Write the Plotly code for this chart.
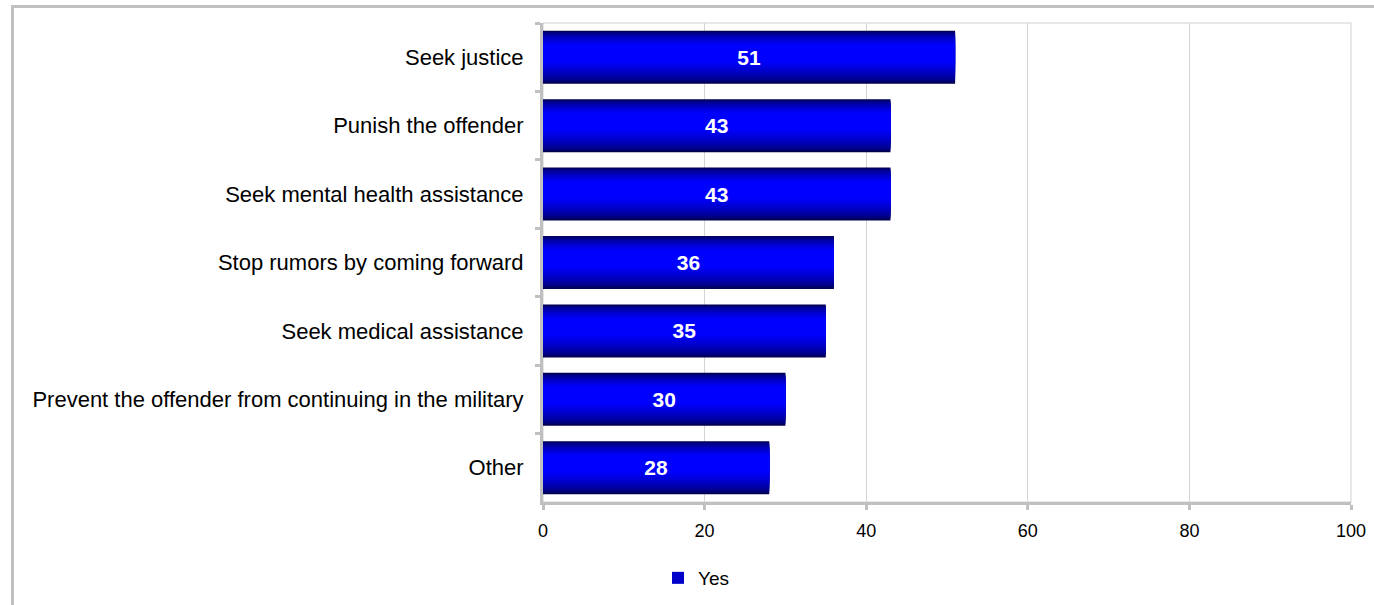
import plotly.graph_objects as go

categories = [
    "Seek justice",
    "Punish the offender",
    "Seek mental health assistance",
    "Stop rumors by coming forward",
    "Seek medical assistance",
    "Prevent the offender from continuing in the military",
    "Other",
]
yes_values = [51, 43, 43, 36, 35, 30, 28]
x_ticks = [0, 20, 40, 60, 80, 100]

L, R, T, B = 543, 1351, 23, 502
W, H = 1374, 605
pw, ph = R - L, B - T
band_px = ph / len(categories)
bar_px = 53.0

fig = go.Figure()

# vertical gradient of the bars: stacked overlay layers, dark edges -> bright centre
n_layers = 12
top_fade, bottom_fade = 14.0, 22.0
for i in range(n_layers):
    f = i / (n_layers - 1)
    a = top_fade * f
    b = bar_px - bottom_fade * f
    blue = int(round(85 + (255 - 85) * f ** 0.6))
    fig.add_trace(go.Bar(
        y=categories, x=yes_values, orientation="h",
        offset=-bar_px / 2 / band_px + a / band_px,
        width=(b - a) / band_px,
        marker=dict(color=f"rgb(0,0,{blue})", line=dict(width=0)),
        name="Yes", showlegend=(i == 6),
        hoverinfo="skip",
    ))

# value labels on top of everything
fig.add_trace(go.Bar(
    y=categories, x=yes_values, orientation="h",
    width=bar_px / band_px,
    marker=dict(color="rgba(0,0,0,0)", line=dict(width=0)),
    text=[str(v) for v in yes_values], textposition="inside", insidetextanchor="middle",
    textfont=dict(color="white", size=21, family="Liberation Sans, Arial", weight="bold"),
    showlegend=False, hoverinfo="skip",
))


def px_x(p):
    return (p - L) / pw


def px_y(p):
    return (B - p) / ph


fig.update_layout(
    width=W, height=H, autosize=False,
    margin=dict(l=L, r=W - R, t=T, b=H - B, pad=0, autoexpand=False),
    barmode="overlay",
    plot_bgcolor="white", paper_bgcolor="white",
    font=dict(family="Liberation Sans, Arial", color="black", size=18),
    xaxis=dict(
        range=[0, 100], tickvals=x_ticks, ticktext=[str(t) for t in x_ticks],
        showgrid=True, gridcolor="#d4d4d4", gridwidth=1,
        showline=True, linecolor="#c0c0c0", linewidth=3,
        ticks="outside", ticklen=5, tickwidth=3, tickcolor="#c0c0c0",
        tickfont=dict(size=18), ticklabelstandoff=5, zeroline=False, automargin=False,
    ),
    yaxis=dict(
        categoryorder="array", categoryarray=categories,
        range=[6.5, -0.5],
        showline=True, linecolor="#c0c0c0", linewidth=3,
        ticks="outside", tickson="boundaries", ticklen=5, tickwidth=3, tickcolor="#c0c0c0",
        tickfont=dict(size=22), ticklabelstandoff=12, showgrid=False, automargin=False,
    ),
    legend=dict(
        orientation="h", xref="container", yref="container",
        x=658 / W, y=1 - 559 / H, xanchor="left", yanchor="top",
        font=dict(size=19), bgcolor="rgba(0,0,0,0)", itemwidth=30,
    ),
    shapes=[
        dict(type="rect", xref="paper", yref="paper", x0=0, x1=1, y0=0, y1=1,
             line=dict(color="#d0d0d0", width=1), layer="below"),
        dict(type="line", xref="paper", yref="paper", x0=px_x(12.5), x1=px_x(1380),
             y0=px_y(6.5), y1=px_y(6.5), line=dict(color="#c0c0c0", width=3)),
        dict(type="line", xref="paper", yref="paper", x0=px_x(12.5), x1=px_x(12.5),
             y0=px_y(5), y1=px_y(610), line=dict(color="#c0c0c0", width=3)),
    ],
)

fig.write_html(
    "out.html",
    config={"displayModeBar": False, "responsive": False},
    default_width=f"{W}px", default_height=f"{H}px",
    post_script="document.body.style.margin='0';document.body.style.overflow='hidden';",
)
